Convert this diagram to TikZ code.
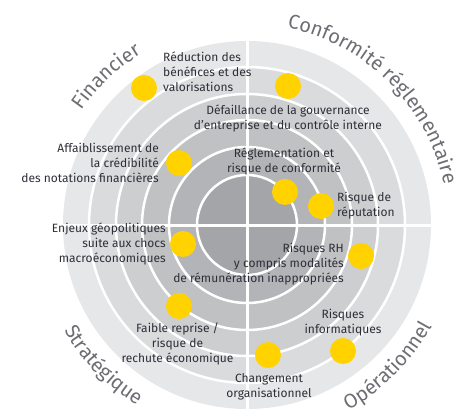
\documentclass[tikz,border=0pt]{standalone}
\usepackage{fontspec}
\setmainfont{Fira Sans}
\usetikzlibrary{decorations.text}
\definecolor{eyyellow}{HTML}{FFD200}
\definecolor{txtgray}{HTML}{2E2E38}
\definecolor{secgray}{HTML}{6D6E73}
\begin{document}
\begin{tikzpicture}[x=1pt,y=1pt,
    dot/.style={circle,fill=eyyellow,minimum size=26pt,inner sep=0pt},
    lbl/.style={inner sep=0pt,font=\fontsize{12}{15}\selectfont,text=txtgray},
    sector/.style={decorate,decoration={text along path,text align=center,
        text={|\fontsize{20}{20}\selectfont\color{secgray}|#1}}}]
    \def\rt{201} \def\rb{211}
    \useasboundingbox (-247,-187) rectangle (223,225);
    % rings, outside in
    \foreach \r/\c in {184/E6E7E8,158/DADBDC,131/CDCED0,105/C0C1C3,78/B3B4B7,50/A4A5A8}{
        \definecolor{band}{HTML}{\c}
        \fill[band] (0,0) circle[radius=\r];
    }
    \foreach \r in {158,131,105,78,50}
        \draw[white,line width=2.5pt] (0,0) circle[radius=\r];
    \draw[white,line width=3pt] (-184,0)--(184,0) (0,-184)--(0,184);
    % sector names
    \path[sector=Financier] (173.5:\rt) arc[start angle=173.5,end angle=93.5,radius=\rt];
    \path[sector=Conformité réglementaire] (100:\rt) arc[start angle=100,end angle=-10,radius=\rt];
    \path[sector=Stratégique] (184.3:\rb) arc[start angle=184.3,end angle=264.3,radius=\rb];
    \path[sector=Opérationnel] (275:\rb) arc[start angle=275,end angle=355,radius=\rb];
    % risks
    \foreach \x/\y [count=\i] in {-103/137,41/139,-68/62,38/33,74/19,-64/-19,-68/-81,114/-31,96/-126,21/-130}
        \node[dot] (dot\i) at (\x,\y) {};
    \node[lbl,anchor=west,align=left] (reduc) at (-84,153) {Réduction des\\bénéfices et des\\valorisations};
    \node[lbl,align=center] (defail) at (41,107) {Défaillance de la gouvernance\\d'entreprise et du contrôle interne};
    \node[lbl,anchor=east,align=right] (affai) at (-88,62) {Affaiblissement de\\la crédibilité\\des notations financières};
    \node[lbl,align=center] (regle) at (37,64) {Réglementation et\\risque de conformité};
    \node[lbl,anchor=west,align=left] (reput) at (90,19.5) {Risque de\\réputation};
    \node[lbl,anchor=east,align=right] (enjeu) at (-81,-19) {Enjeux géopolitiques\\suite aux chocs\\macroéconomiques};
    \node[lbl,anchor=east,align=right] (rh) at (97,-39) {Risques RH\\y compris modalités\\de rémunération inappropriées};
    \node[lbl,align=center] (faible) at (-69.5,-119) {Faible reprise /\\risque de\\rechute économique};
    \node[lbl,align=center] (info) at (96,-97.5) {Risques\\informatiques};
    \node[lbl,align=center] (chang) at (22,-162) {Changement\\organisationnel};
\end{tikzpicture}
\end{document}
